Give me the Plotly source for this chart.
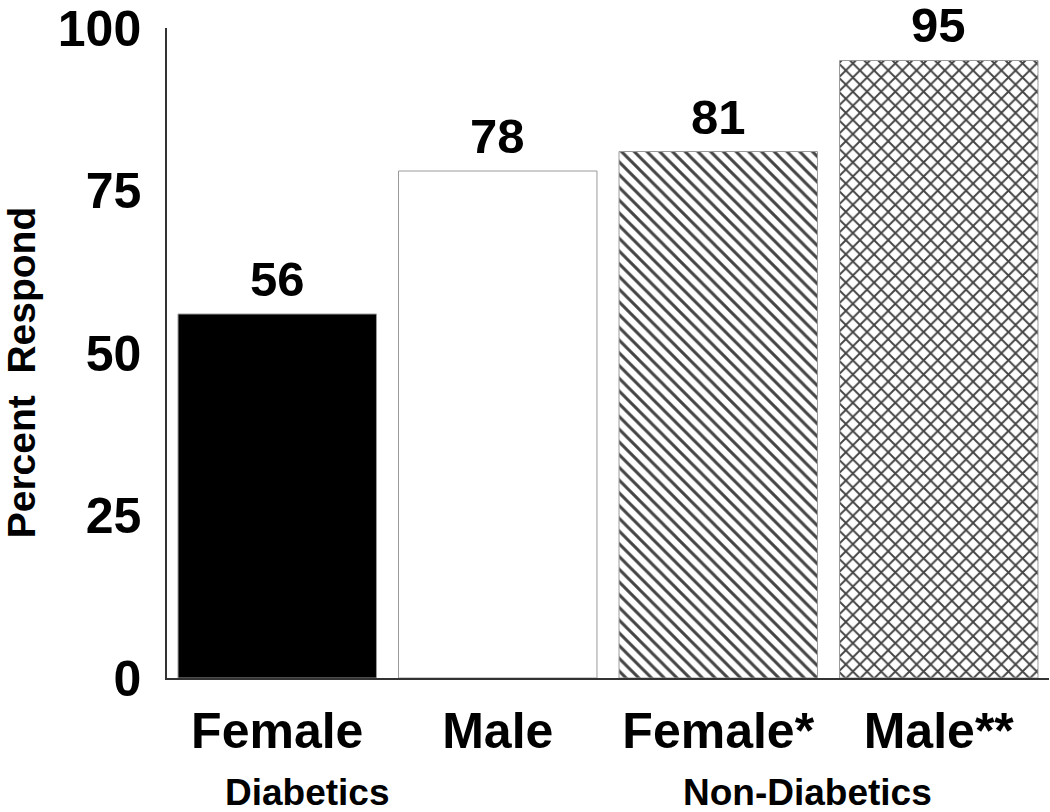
import plotly.graph_objects as go

CATEGORIES = ["Female", "Male", "Female*", "Male**"]
PERCENT_RESPOND = [56, 78, 81, 95]
Y_TICKS = [0, 25, 50, 75, 100]
GROUP_LABELS = ["Diabetics", "Non-Diabetics"]
GROUP_X = [0.159, 0.726]  # centre of each group label, paper coords

FONT = "Liberation Sans, Arial, sans-serif"
OUTLINE = "#9a9a9a"

fig = go.Figure()
fig.add_trace(go.Bar(
    x=CATEGORIES, y=PERCENT_RESPOND,
    marker=dict(
        color=["black", "white", "white", "white"],
        line=dict(color=OUTLINE, width=1),
        pattern=dict(
            shape=["", "", "\\", "x"],
            fgcolor="black",
            fgopacity=1,
            bgcolor="white",
            size=[8, 8, 9, 10],
            solidity=[0.2, 0.2, 0.33, 0.34],
            fillmode="overlay",
        ),
    ),
    showlegend=False,
))

# value labels above the bars
for cat, val in zip(CATEGORIES, PERCENT_RESPOND):
    fig.add_annotation(
        x=cat, y=val, text=str(val), showarrow=False,
        xanchor="center", yanchor="bottom", yshift=6,
        font=dict(family=FONT, size=49, color="black", weight="bold"),
    )

# group labels under the categories
for label, gx in zip(GROUP_LABELS, GROUP_X):
    fig.add_annotation(
        x=gx, xref="paper", y=-0.176, yref="paper",
        text=label, showarrow=False, xanchor="center", yanchor="middle",
        font=dict(family=FONT, size=37, color="black", weight="bold"),
    )

# y axis title, a bit below the middle like the original
fig.add_annotation(
    x=-0.165, xref="paper", y=0.471, yref="paper",
    text="Percent&nbsp;&nbsp;Respond", textangle=-90, showarrow=False,
    xanchor="center", yanchor="middle",
    font=dict(family=FONT, size=39, color="black", weight="bold"),
)

fig.update_layout(
    width=1050, height=812,
    margin=dict(l=167, r=1, t=28, b=134),
    plot_bgcolor="white", paper_bgcolor="white",
    bargap=0.1,
    font=dict(family=FONT, color="black"),
)
fig.update_xaxes(
    automargin=False,
    showline=True, linecolor="#333333", linewidth=1.5,
    showgrid=False, ticks="",
    tickfont=dict(family=FONT, size=50, color="black", weight="bold"),
    ticklabelstandoff=8,
)
fig.update_yaxes(
    automargin=False,
    range=[0, 100], tickvals=Y_TICKS,
    showline=True, linecolor="#333333", linewidth=1.5,
    showgrid=False, zeroline=False, ticks="",
    tickfont=dict(family=FONT, size=50, color="black", weight="bold"),
    ticklabelstandoff=14,
)

# page body has a default 8px margin; drop it so the figure fills the window
fig.write_html(
    "out.html",
    config={"displayModeBar": False},
    post_script="document.body.style.margin='0';",
)
